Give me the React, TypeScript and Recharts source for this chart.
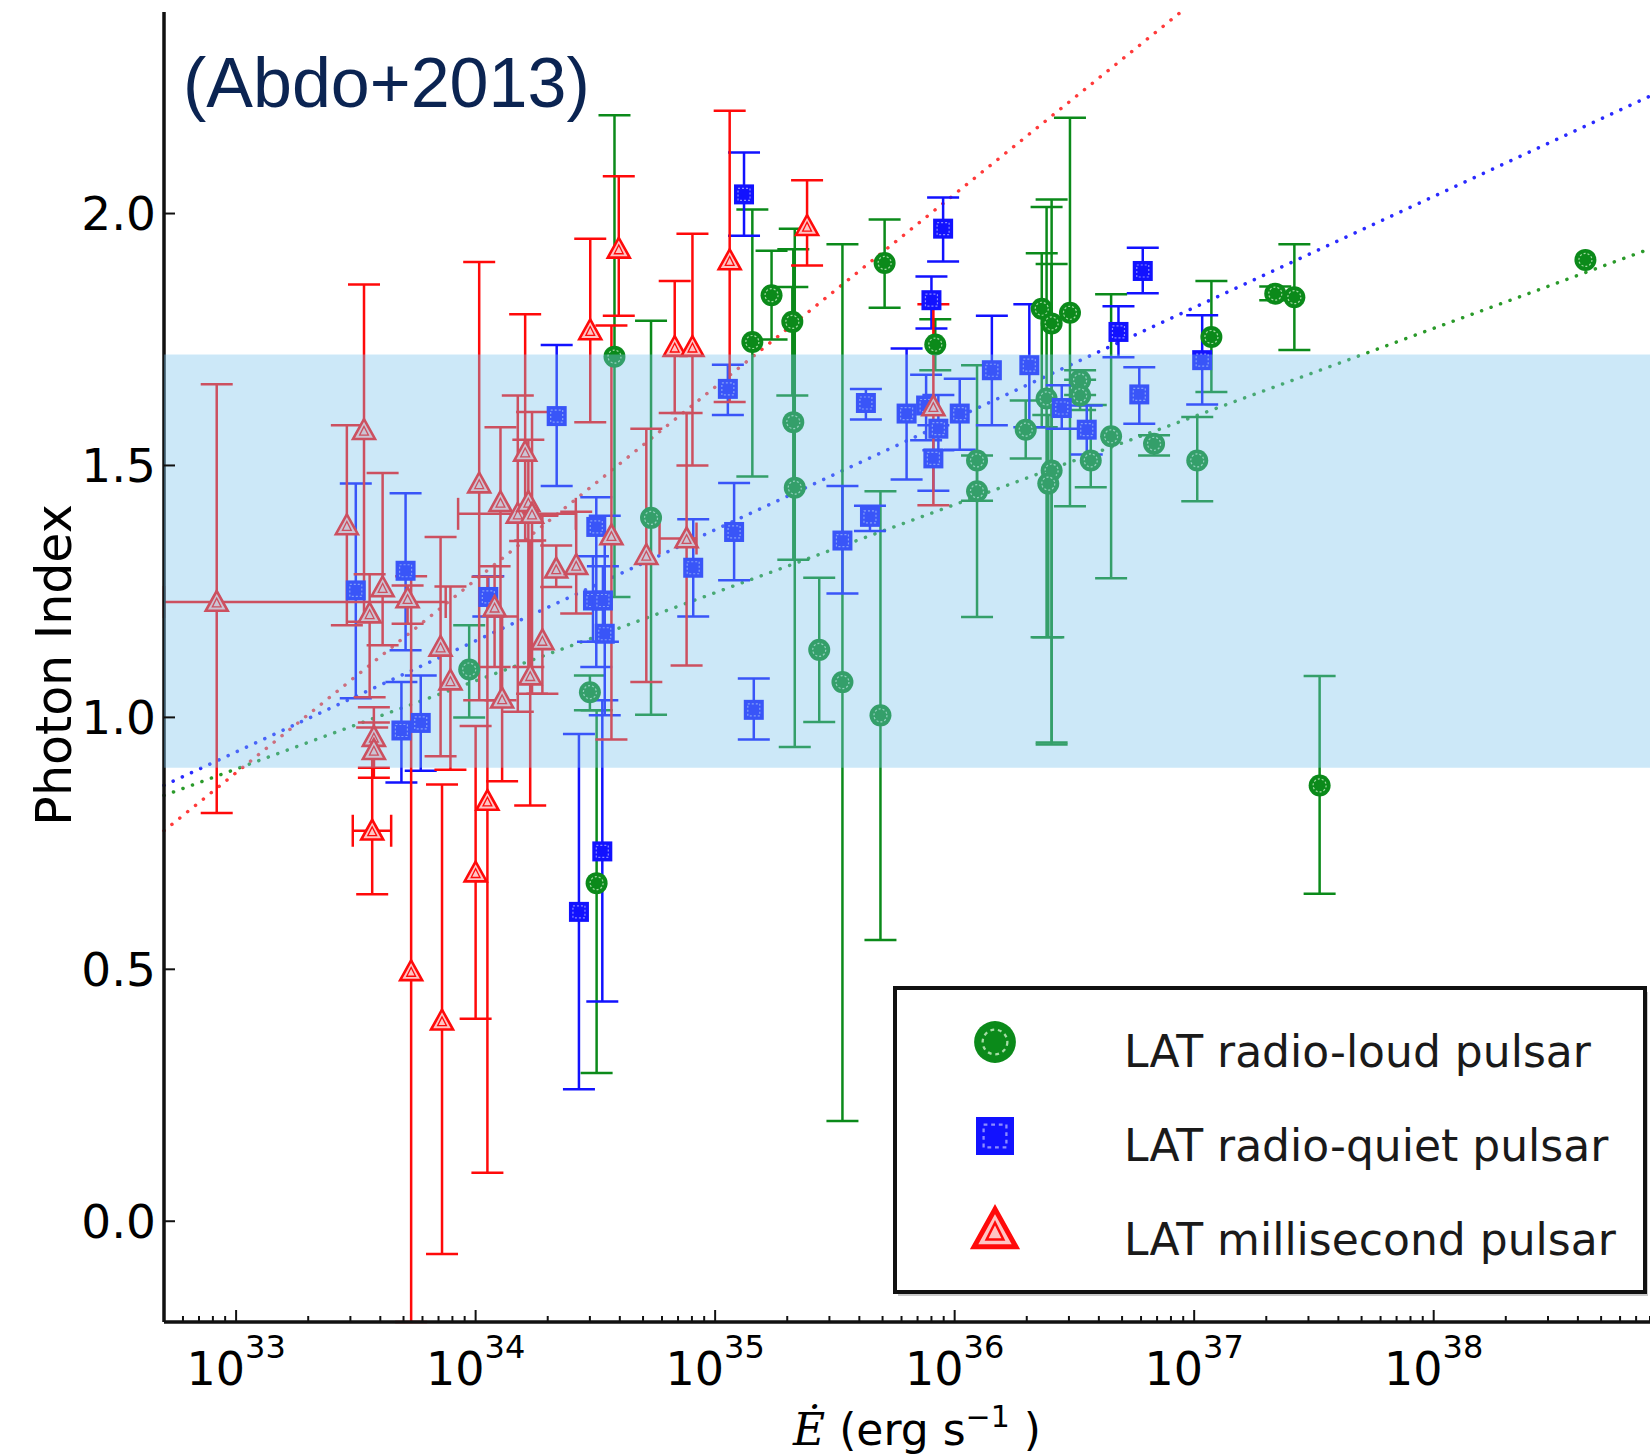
import {
  ScatterChart, Scatter, XAxis, YAxis, ErrorBar,
  ReferenceArea, ReferenceLine, Legend,
} from "recharts";

// [Edot (erg/s), photon index, lower bound, upper bound, optional Edot low, Edot high]
type Row = [number, number, number, number, number?, number?];

const radioLoud: Row[] = [
  [9.4e33, 1.095, 1.0, 1.183],
  [3.0e34, 1.05, 1.014, 1.083],
  [3.2e34, 0.671, 0.294, 1.014],
  [3.8e34, 1.716, 1.239, 2.195],
  [5.4e34, 1.396, 1.005, 1.787],
  [1.43e35, 1.745, 1.478, 2.008],
  [1.72e35, 1.838, 1.75, 1.926],
  [2.1e35, 1.785, 1.639, 1.854],
  [2.12e35, 1.586, 1.313, 1.929],
  [2.15e35, 1.456, 0.941, 1.97],
  [2.72e35, 1.134, 0.991, 1.277],
  [3.4e35, 1.07, 0.199, 1.939],
  [4.9e35, 1.004, 0.558, 1.449],
  [5.1e35, 1.902, 1.813, 1.988],
  [8.3e35, 1.74, 1.689, 1.79],
  [1.24e36, 1.51, 1.43, 1.699],
  [1.24e36, 1.449, 1.199, 1.52],
  [1.98e36, 1.571, 1.514, 1.629],
  [2.31e36, 1.811, 1.576, 1.921],
  [2.54e36, 1.782, 0.95, 2.028],
  [3.03e36, 1.803, 1.419, 2.19],
  [2.42e36, 1.633, 1.159, 2.013],
  [2.54e36, 1.49, 0.946, 1.9],
  [2.46e36, 1.464, 1.159, 1.6],
  [3.34e36, 1.669, 1.64, 1.689],
  [3.34e36, 1.639, 1.61, 1.67],
  [3.7e36, 1.51, 1.457, 1.62],
  [4.5e36, 1.558, 1.276, 1.84],
  [6.8e36, 1.543, 1.52, 1.56],
  [1.03e37, 1.51, 1.429, 1.596],
  [1.18e37, 1.755, 1.646, 1.866],
  [2.18e37, 1.841, 1.828, 1.855],
  [2.62e37, 1.834, 1.729, 1.939],
  [3.34e37, 0.865, 0.65, 1.082],
  [4.3e38, 1.908, 1.908, 1.908],
];

const radioQuiet: Row[] = [
  [3.16e33, 1.252, 1.038, 1.464],
  [5.1e33, 1.291, 1.133, 1.445],
  [4.9e33, 0.974, 0.871, 1.07],
  [5.9e33, 0.989, 0.894, 1.083],
  [1.13e34, 1.239, 1.2, 1.28],
  [2.18e34, 1.598, 1.459, 1.739],
  [2.7e34, 0.614, 0.262, 0.967],
  [3.19e34, 1.378, 1.1, 1.437],
  [3.09e34, 1.232, 1.15, 1.32],
  [3.4e34, 1.232, 1.15, 1.3],
  [3.46e34, 1.166, 1.004, 1.4],
  [3.38e34, 0.734, 0.436, 1.034],
  [8.1e34, 1.297, 1.2, 1.393],
  [1.13e35, 1.652, 1.6, 1.7],
  [1.2e35, 1.368, 1.272, 1.465],
  [1.32e35, 2.038, 1.956, 2.121],
  [1.45e35, 1.015, 0.956, 1.077],
  [3.4e35, 1.351, 1.246, 1.459],
  [4.43e35, 1.398, 1.37, 1.42],
  [4.26e35, 1.624, 1.591, 1.652],
  [6.3e35, 1.603, 1.472, 1.732],
  [7.6e35, 1.619, 1.55, 1.68],
  [8.55e35, 1.573, 1.53, 1.64],
  [8.15e35, 1.514, 1.45, 1.58],
  [8.0e35, 1.828, 1.772, 1.875],
  [8.95e35, 1.97, 1.905, 2.032],
  [1.05e36, 1.603, 1.531, 1.672],
  [1.43e36, 1.689, 1.58, 1.797],
  [2.05e36, 1.699, 1.576, 1.82],
  [2.8e36, 1.614, 1.573, 1.659],
  [3.56e36, 1.571, 1.522, 1.619],
  [4.83e36, 1.765, 1.715, 1.816],
  [5.9e36, 1.641, 1.583, 1.695],
  [6.1e36, 1.886, 1.842, 1.932],
  [1.08e37, 1.709, 1.621, 1.798],
];

// bars that run off the plot are cut at the axis limits
const millisecond: Row[] = [
  [8.3e32, 1.229, 0.81, 1.661, 5e32, 7.5e33],
  [2.9e33, 1.381, 1.183, 1.58],
  [3.42e33, 1.57, 1.19, 1.859],
  [3.61e33, 1.206, 1.04, 1.284],
  [4.09e33, 1.258, 1.143, 1.485],
  [5.2e33, 1.236, 1.186, 1.262],
  [3.76e33, 0.961, 0.9, 1.02],
  [3.76e33, 0.935, 0.88, 0.99],
  [3.7e33, 0.775, 0.649, 0.98, 3.07e33, 4.44e33],
  [5.38e33, 0.496, -0.2, 1.28],
  [7.24e33, 0.398, -0.065, 0.867],
  [7.14e33, 1.14, 0.923, 1.358],
  [7.85e33, 1.073, 0.896, 1.26],
  [1.0e34, 0.692, 0.402, 0.983],
  [1.035e34, 1.464, 1.034, 1.904],
  [1.12e34, 0.834, 0.096, 1.279],
  [1.2e34, 1.219, 1.1, 1.3],
  [1.29e34, 1.037, 0.873, 1.2],
  [1.27e34, 1.427, 1.034, 1.576],
  [1.5e34, 1.404, 1.011, 1.639, 8.45e33, 2.62e34],
  [1.66e34, 1.427, 1.1, 1.551],
  [1.61e34, 1.527, 1.35, 1.8],
  [1.72e34, 1.404, 1.047, 1.606],
  [1.69e34, 1.083, 0.825, 1.351],
  [1.9e34, 1.153, 1.047, 1.4],
  [2.17e34, 1.295, 1.259, 1.341],
  [2.63e34, 1.302, 1.206, 1.408],
  [3.01e34, 1.768, 1.586, 1.95],
  [3.69e34, 1.361, 0.956, 1.778],
  [3.96e34, 1.93, 1.797, 2.074],
  [5.16e34, 1.322, 1.07, 1.573],
  [6.78e34, 1.735, 1.604, 1.866],
  [8.04e34, 1.735, 1.5, 1.96],
  [7.6e34, 1.355, 1.103, 1.604, 5.86e34, 8.36e34],
  [1.15e35, 1.907, 1.626, 2.204],
  [2.42e35, 1.975, 1.897, 2.066],
  [8.15e35, 1.617, 1.421, 1.82],
];

// dotted fits, two end points each
const fitLoud = [[5e32, 0.845], [8e38, 1.93]];
const fitQuiet = [[5e32, 0.865], [8e38, 2.233]];
const fitMsp = [[5e32, 0.775], [8.8e36, 2.4]];

const seriesNames = ["LAT radio-loud pulsar", "LAT radio-quiet pulsar", "LAT millisecond pulsar"];
const xDomain = [5e32, 8e38];
const yDomain = [-0.2, 2.4];
const yTicks = [0, 0.5, 1.0, 1.5, 2.0];
const decades = [1e32, 1e33, 1e34, 1e35, 1e36, 1e37, 1e38];
const band = [0.9, 1.72];

const GREEN = "#0b8a1a";
const BLUE = "#1212ff";
const RED = "#ff0a0a";

const xTicks = decades
  .flatMap((d) => [1, 2, 3, 4, 5, 6, 7, 8, 9].map((k) => k * d))
  .filter((v) => v >= xDomain[0] && v <= xDomain[1]);

function toPoints(rows: Row[]) {
  return rows.map(([E, gamma, lo, hi, xLo, xHi]) => ({
    E,
    gamma,
    yErr: hi > lo ? [gamma - lo, hi - gamma] : undefined,
    xErr: xLo != null && xHi != null ? [E - xLo, xHi - E] : undefined,
  }));
}

const LoudMark = ({ cx, cy, s = 1 }: any) => (
  <g>
    <circle cx={cx} cy={cy} r={11 * s} fill={GREEN} />
    <circle cx={cx} cy={cy} r={6.5 * s} fill="none" stroke="#a6dca6"
      strokeWidth={1.2 * s} strokeDasharray={`${2 * s} ${2 * s}`} />
  </g>
);

const QuietMark = ({ cx, cy, s = 1 }: any) => (
  <g>
    <rect x={cx - 10 * s} y={cy - 10 * s} width={20 * s} height={20 * s} fill={BLUE} />
    <rect x={cx - 6 * s} y={cy - 6 * s} width={12 * s} height={12 * s} fill="none"
      stroke="#8c8cff" strokeWidth={1.2 * s} strokeDasharray={`${2 * s} ${2 * s}`} />
  </g>
);

const MspMark = ({ cx, cy, s = 1 }: any) => {
  const h = 11 * s;
  return (
    <g>
      <polygon
        points={`${cx},${cy - h} ${cx - h},${cy + 0.8 * h} ${cx + h},${cy + 0.8 * h}`}
        fill="#ffc4c4" stroke={RED} strokeWidth={2.6 * s} strokeLinejoin="miter"
      />
      <polygon
        points={`${cx},${cy - 0.35 * h} ${cx - 0.4 * h},${cy + 0.45 * h} ${cx + 0.4 * h},${cy + 0.45 * h}`}
        fill="none" stroke={RED} strokeWidth={1.3 * s}
      />
    </g>
  );
};

const marks = [LoudMark, QuietMark, MspMark];

const BottomTick = ({ x, y, payload }: any) => {
  const exp = Math.log10(payload.value);
  const major = Math.abs(exp - Math.round(exp)) < 1e-6;
  return (
    <g>
      <line x1={x} x2={x} y1={y} y2={y - (major ? 12 : 6)} stroke="#111" strokeWidth={2} />
      {major && (
        <text x={x} y={y + 63} textAnchor="middle" fontFamily="DejaVu Sans" fontSize={46} fill="#000">
          10<tspan dy={-27} fontSize={32}>{Math.round(exp)}</tspan>
        </text>
      )}
    </g>
  );
};

const TopTick = ({ x, y, payload }: any) => {
  const exp = Math.log10(payload.value);
  const major = Math.abs(exp - Math.round(exp)) < 1e-6;
  return <line x1={x} x2={x} y1={y} y2={y + (major ? 12 : 6)} stroke="#111" strokeWidth={2} />;
};

const LeftTick = ({ x, y, payload }: any) => (
  <g>
    <line x1={x} x2={x + 11} y1={y} y2={y} stroke="#111" strokeWidth={2} />
    <text x={x - 8} y={y} dy="0.36em" textAnchor="end" fontFamily="DejaVu Sans" fontSize={47} fill="#000">
      {Number(payload.value).toFixed(1)}
    </text>
  </g>
);

const LegendBox = ({ payload }: any) => (
  <svg width={757} height={312}>
    <rect x={5} y={6} width={750} height={304} fill="#888" opacity={0.45} />
    <rect x={2} y={2} width={750} height={304} fill="#fff" stroke="#111" strokeWidth={4} />
    {(payload ?? []).map((p: any) => {
      const i = seriesNames.indexOf(p.value);
      const Mark = marks[i] ?? LoudMark;
      const cy = 56 + i * 94;
      return (
        <g key={p.value}>
          <Mark cx={102} cy={cy} s={1.9} />
          <text x={231} y={cy + 25} fontFamily="DejaVu Sans" fontSize={44} fill="#1a1a1a">
            {p.value}
          </text>
        </g>
      );
    })}
  </svg>
);

const segment = (f: number[][]) => [{ x: f[0][0], y: f[0][1] }, { x: f[1][0], y: f[1][1] }];

export default function App() {
  const loud = toPoints(radioLoud);
  const quiet = toPoints(radioQuiet);
  const msp = toPoints(millisecond);
  const barProps = { width: 16, strokeWidth: 2.5, isAnimationActive: false };

  return (
    <div style={{ position: "absolute", left: 0, top: 0, width: 1650, height: 1455, background: "#fff", overflow: "hidden" }}>
      <ScatterChart width={1650} height={1455} margin={{ top: 12, right: 0, bottom: 0, left: 0 }}>
        <XAxis
          dataKey="E" type="number" scale="log" domain={xDomain} allowDataOverflow
          ticks={xTicks} interval={0} height={133} tickSize={0} tickMargin={0}
          tickLine={false} tick={<BottomTick />}
          axisLine={{ stroke: "#111", strokeWidth: 3.5 }}
        />
        <XAxis
          xAxisId="top" orientation="top" dataKey="E" type="number" scale="log"
          domain={xDomain} allowDataOverflow ticks={xTicks} interval={0} height={0}
          tickSize={0} tickMargin={0} tickLine={false} tick={<TopTick />}
          axisLine={{ stroke: "#111", strokeWidth: 3.5 }}
        />
        <YAxis
          dataKey="gamma" type="number" domain={yDomain} allowDataOverflow ticks={yTicks}
          interval={0} width={164} tickSize={0} tickMargin={0} tickLine={false}
          tick={<LeftTick />} axisLine={{ stroke: "#111", strokeWidth: 3.5 }}
        />

        <ReferenceLine segment={segment(fitLoud)} stroke="#2a9a2a" strokeWidth={3.5}
          strokeDasharray="0.1 10" strokeLinecap="round" />
        <ReferenceLine segment={segment(fitQuiet)} stroke="#2a2aff" strokeWidth={3.5}
          strokeDasharray="0.1 10" strokeLinecap="round" />
        <ReferenceLine segment={segment(fitMsp)} stroke="#ff3a3a" strokeWidth={3.5}
          strokeDasharray="0.1 10" strokeLinecap="round" />

        <Scatter name={seriesNames[0]} data={loud} fill={GREEN} isAnimationActive={false}
          shape={(p: any) => <LoudMark cx={p.cx} cy={p.cy} />}>
          <ErrorBar dataKey="yErr" direction="y" stroke={GREEN} {...barProps} />
        </Scatter>
        <Scatter name={seriesNames[1]} data={quiet} fill={BLUE} isAnimationActive={false}
          shape={(p: any) => <QuietMark cx={p.cx} cy={p.cy} />}>
          <ErrorBar dataKey="yErr" direction="y" stroke={BLUE} {...barProps} />
        </Scatter>
        <Scatter name={seriesNames[2]} data={msp} fill={RED} isAnimationActive={false}
          shape={(p: any) => <MspMark cx={p.cx} cy={p.cy} />}>
          <ErrorBar dataKey="yErr" direction="y" stroke={RED} {...barProps} />
          <ErrorBar dataKey="xErr" direction="x" stroke={RED} {...barProps} />
        </Scatter>

        <ReferenceArea y1={band[0]} y2={band[1]} fill="rgb(121,195,237)" fillOpacity={0.38}
          stroke="none" zIndex={650} />

        <Legend
          layout="vertical" align="center" verticalAlign="middle"
          content={<LegendBox />}
          wrapperStyle={{ left: 893, top: 986, width: 757, height: 312 }}
        />
      </ScatterChart>

      <svg width={1650} height={1455} style={{ position: "absolute", left: 0, top: 0, pointerEvents: "none" }}>
        <text x={183} y={107} fontFamily="Liberation Sans" fontSize={70} fill="#0b2452">(Abdo+2013)</text>
        <text transform="translate(71,665) rotate(-90)" textAnchor="middle" fontFamily="DejaVu Sans"
          fontSize={49} fill="#000">Photon Index</text>
        <text x={917} y={1445} textAnchor="middle" fontFamily="DejaVu Sans" fontSize={44} fill="#000">
          <tspan fontFamily="DejaVu Serif" fontStyle="italic">Ė</tspan>
          <tspan> (erg s</tspan>
          <tspan dy={-18} fontSize={30}>−1</tspan>
          <tspan dy={18}> )</tspan>
        </text>
      </svg>
    </div>
  );
}
